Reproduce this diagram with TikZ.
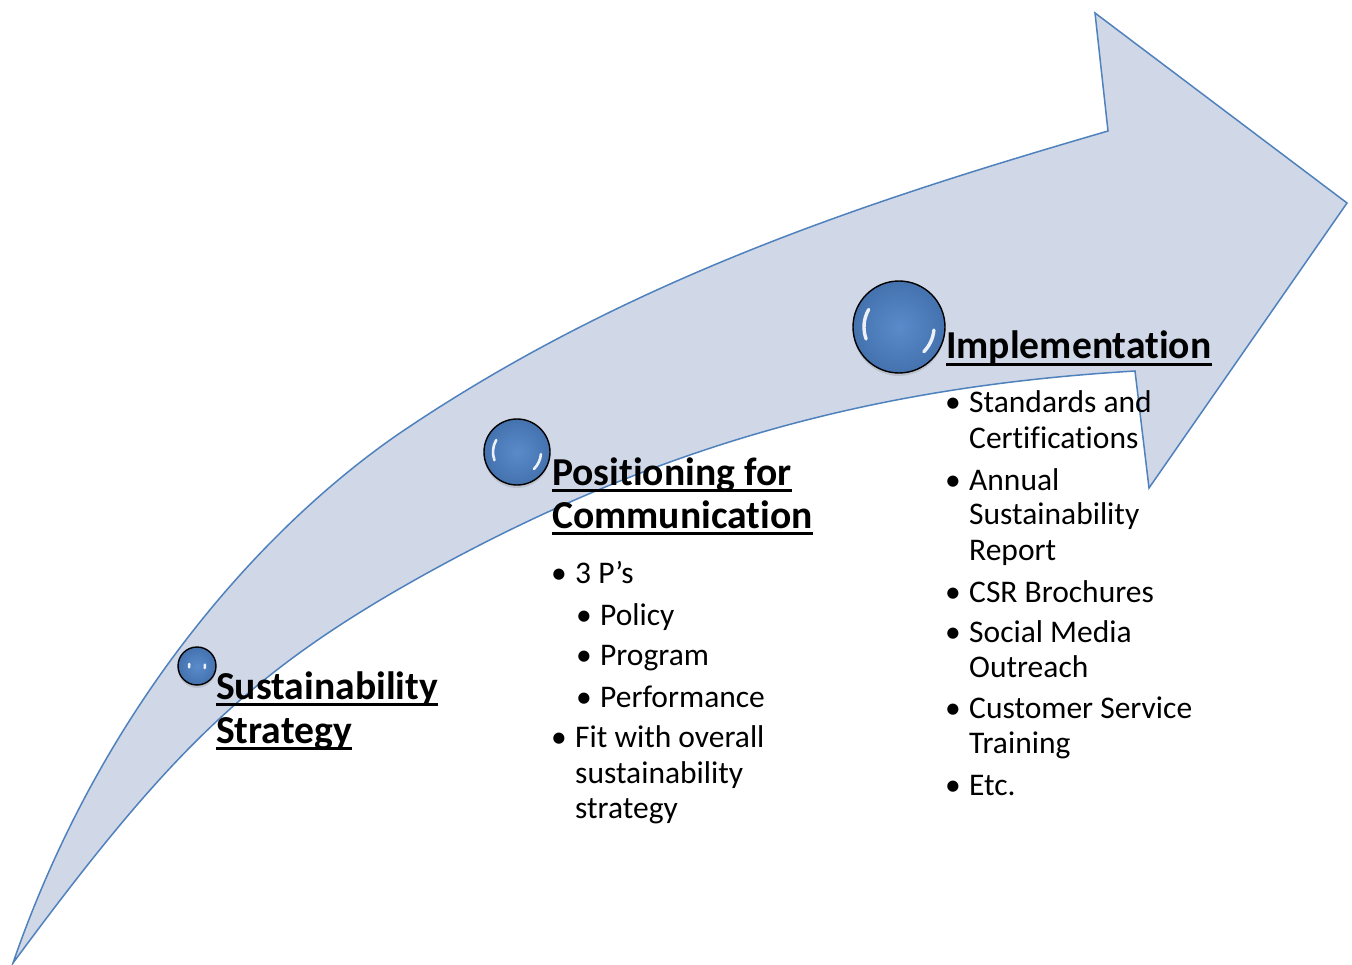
\documentclass[tikz,border=0pt]{standalone}
\usepackage{fontspec}
\setmainfont{Carlito}[Ligatures=NoCommon]
\usetikzlibrary{shadows}
\definecolor{arrowfill}{HTML}{D0D8E8}
\definecolor{arrowedge}{HTML}{4F81BD}
\definecolor{ballblue}{HTML}{4472AF}
\definecolor{balllight}{HTML}{5A8BCA}
\begin{document}
\begin{tikzpicture}[x=1pt,y=-1pt,
  title/.style={font=\fontsize{39.6}{44}\selectfont\bfseries, inner sep=0pt, anchor=base west},
  body/.style={font=\fontsize{31.5}{35}\selectfont, inner sep=0pt, anchor=base west},
  ball/.style={circle, draw=black, line width=1.4pt, inner sep=0pt, shading=radial,
    inner color=balllight, outer color=ballblue,
    drop shadow={opacity=0.25, shadow xshift=0pt, shadow yshift=-3pt}},
  hl/.style={draw=white, opacity=0.9, line cap=round},
  uline/.style={line width=2.8pt}]
\useasboundingbox (0,0) rectangle (1352,965);
\fill[white] (0,0) rectangle (1352,965);

% curved arrow
\coordinate (tail) at (13,963);
\coordinate (umid) at (400,433);
\coordinate (ujoin) at (1108,131);
\coordinate (barbT) at (1095,13);
\coordinate (tip) at (1347,203);
\coordinate (barbB) at (1149,488);
\coordinate (ljoin) at (1135,371);
\coordinate (lmid) at (413,581);
\path[fill=arrowfill, draw=arrowedge, line width=1.5pt, line join=miter]
  (tail) .. controls (108,688) and (280,515) .. (umid)
  .. controls (630,277) and (878,198) .. (ujoin)
  -- (barbT) -- (tip) -- (barbB) -- (ljoin)
  .. controls (885,386) and (663,440) .. (lmid)
  .. controls (243,677) and (163,760) .. (tail) -- cycle;

% spheres
\node[ball, minimum size=38pt] (b1) at (197,666) {};
\node[ball, minimum size=66pt] (b2) at (517,452) {};
\node[ball, minimum size=92pt] (b3) at (899,327) {};
\draw[hl, line width=2.5pt] ([shift={(165:8pt)}]b1.center) arc[start angle=165, end angle=190, radius=8pt];
\draw[hl, line width=2.5pt] ([shift={(-15:8pt)}]b1.center) arc[start angle=-15, end angle=10, radius=8pt];
\draw[hl, line width=2.6pt] ([shift={(150:24pt)}]b2.center) arc[start angle=150, end angle=200, radius=24pt];
\draw[hl, line width=2.6pt] ([shift={(-45:24pt)}]b2.center) arc[start angle=-45, end angle=-5, radius=24pt];
\draw[hl, line width=3.4pt] ([shift={(150:35pt)}]b3.center) arc[start angle=150, end angle=200, radius=35pt];
\draw[hl, line width=3.4pt] ([shift={(-45:35pt)}]b3.center) arc[start angle=-45, end angle=-5, radius=35pt];

% titles
\node[title] (t1a) at (216,699) {Sustainability};
\node[title] (t1b) at (216,743) {Strategy};
\node[title] (t2a) at (552,485) {Positioning for};
\node[title] (t2b) at (552,528) {Communication};
\node[title] (t3) at (946,359) {Implementation};
\foreach \n in {t1a,t1b,t2a,t2b,t3}
  \draw[uline] ([yshift=-5.5pt]\n.base west) -- ([yshift=-5.5pt]\n.base east);

% middle list
\node[body] (mb1) at (551,583) {•};
\node[body] (m1) at (575,583) {3 P’s};
\node[body] (mb2) at (576,625) {•};
\node[body] (m2) at (600,625) {Policy};
\node[body] (mb3) at (576,665) {•};
\node[body] (m3) at (600,665) {Program};
\node[body] (mb4) at (576,707) {•};
\node[body] (m4) at (600,707) {Performance};
\node[body] (mb5) at (551,747) {•};
\node[body] (m5) at (575,747) {Fit with overall};
\node[body] (m6) at (575,783) {sustainability};
\node[body] (m7) at (575,818) {strategy};

% right list
\foreach \t/\y [count=\i] in {Standards and/413, Certifications/448, Annual/490, Sustainability/524, Report/560, CSR Brochures/602, Social Media/642, Outreach/677, Customer Service/718, Training/753, Etc./795}
  \node[body] (r\i) at (969,\y) {\t};
\foreach \y [count=\i] in {413,490,602,642,718,795}
  \node[body] (rb\i) at (945,\y) {•};
\end{tikzpicture}
\end{document}
